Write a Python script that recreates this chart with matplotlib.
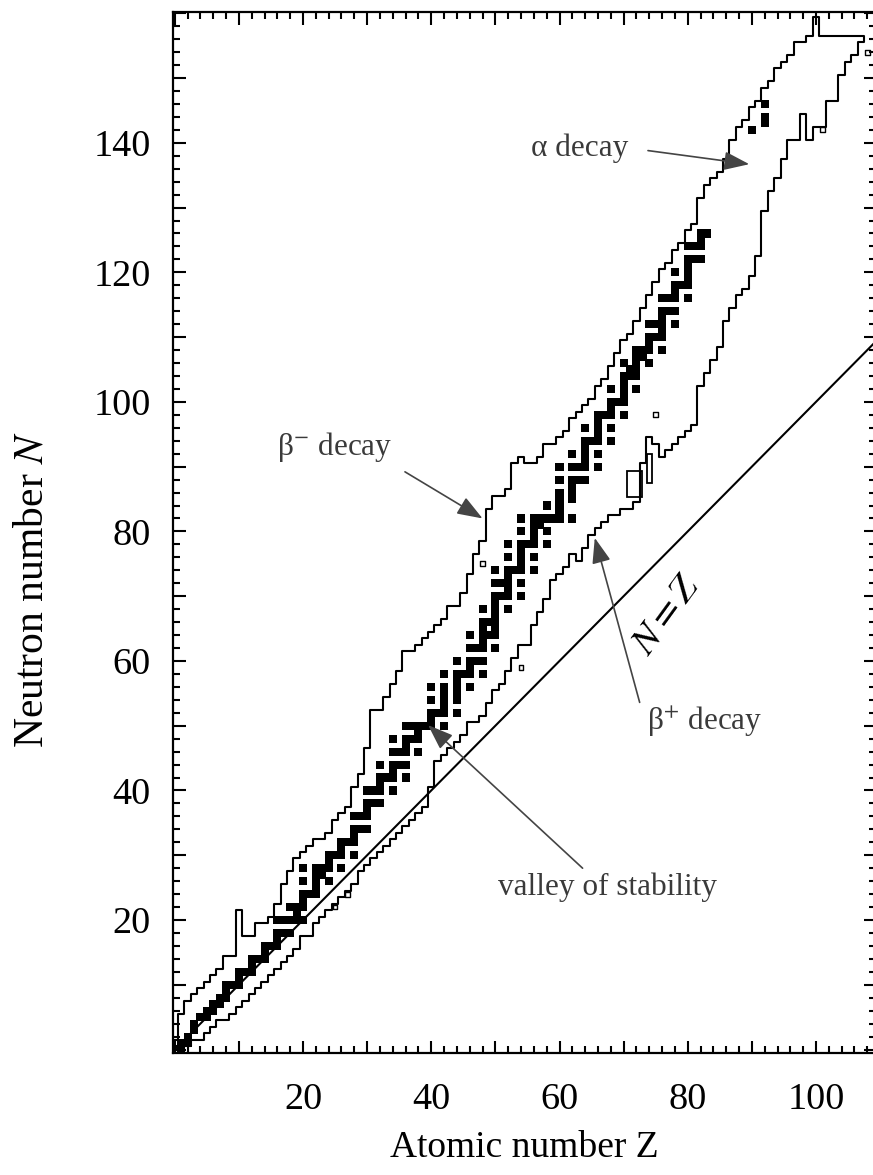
import numpy as np
import matplotlib.pyplot as plt
from matplotlib.ticker import MultipleLocator, FuncFormatter

plt.rcParams['font.family'] = ['Liberation Serif', 'DejaVu Serif']
plt.rcParams['mathtext.fontset'] = 'stix'

# known nuclides: heaviest and lightest neutron number for each Z
z_known = np.arange(0, 108)
n_max = [1,
         5, 7, 8, 9, 10, 11, 12, 14, 14, 21,
         17, 17, 19, 19, 20, 22, 25, 27, 29, 30,
         31, 32, 32, 33, 35, 36, 37, 40, 42, 46,
         52, 52, 54, 56, 58, 61, 61, 62, 63, 64,
         65, 66, 68, 68, 70, 73, 76, 78, 83, 85,
         85, 86, 90, 91, 90, 90, 91, 93, 93, 94,
         95, 97, 98, 99, 100, 102, 103, 105, 107, 109,
         110, 112, 114, 116, 118, 120, 121, 123, 124, 126,
         127, 131, 133, 134, 135, 137, 140, 142, 143, 145,
         146, 148, 149, 151, 152, 153, 155, 155, 156, 159,
         156, 156, 156, 156, 156, 156, 156]
n_min = [1,
         0, 1, 2, 2, 3, 4, 5, 5, 6, 7,
         8, 9, 10, 11, 12, 13, 14, 15, 16, 18,
         18, 20, 21, 22, 23, 24, 25, 26, 28, 29,
         30, 31, 32, 33, 34, 35, 36, 37, 38, 41,
         45, 46, 47, 48, 49, 51, 51, 52, 54, 56,
         57, 59, 61, 63, 63, 66, 68, 70, 73, 74,
         75, 77, 76, 78, 80, 81, 82, 83, 83, 84,
         84, 85, 91, 95, 94, 92, 93, 94, 95, 96,
         97, 103, 105, 107, 109, 113, 115, 117, 118, 120,
         123, 130, 133, 135, 138, 141, 141, 145, 141, 143,
         143, 147, 147, 151, 153, 154, 156]

# stable (and very long lived) nuclides, neutron numbers listed per Z
stable_n = [[], [0, 1], [1, 2], [3, 4], [5], [5, 6], [6, 7], [7, 8], [8, 9, 10], [10],
            [10, 11, 12], [12], [12, 13, 14], [14], [14, 15, 16], [16], [16, 17, 18, 20],
            [18, 20], [18, 20, 22], [20, 21, 22], [20, 22, 23, 24, 26, 28], [24],
            [24, 25, 26, 27, 28], [27, 28], [26, 28, 29, 30], [30], [28, 30, 31, 32],
            [32], [30, 32, 33, 34, 36], [34, 36], [34, 36, 37, 38, 40], [38, 40],
            [38, 40, 41, 42, 44], [42], [40, 42, 43, 44, 46, 48], [44, 46],
            [42, 44, 46, 47, 48, 50], [48, 50], [46, 48, 49, 50], [50],
            [50, 51, 52, 54, 56], [52], [50, 52, 53, 54, 55, 56, 58], [],
            [52, 54, 55, 56, 57, 58, 60], [58], [56, 58, 59, 60, 62, 64], [60, 62],
            [58, 60, 62, 63, 64, 65, 66, 68], [64, 66],
            [62, 64, 65, 66, 67, 68, 69, 70, 72, 74], [70, 72],
            [68, 70, 71, 72, 73, 74, 76, 78], [74], [70, 72, 74, 75, 76, 77, 78, 80, 82],
            [78], [74, 76, 78, 79, 80, 81, 82], [81, 82], [78, 80, 82, 84], [82],
            [82, 83, 84, 85, 86, 88, 90], [], [82, 85, 86, 87, 88, 90, 92], [88, 90],
            [88, 90, 91, 92, 93, 94, 96], [94], [90, 92, 94, 95, 96, 97, 98], [98],
            [94, 96, 98, 99, 100, 102], [100], [98, 100, 101, 102, 103, 104, 106],
            [104, 105], [102, 104, 105, 106, 107, 108], [107, 108],
            [106, 108, 109, 110, 112], [110, 112], [108, 110, 111, 112, 113, 114, 116],
            [114, 116], [112, 114, 116, 117, 118, 120], [118],
            [116, 118, 119, 120, 121, 122, 124], [122, 124], [122, 124, 125, 126], [126],
            [], [], [], [], [], [], [142], [], [143, 144, 146]]

# isolated nuclides outside the main band
single_z = [25, 27, 48, 54, 75, 101, 108]
single_n = [22, 24, 75, 59, 98, 142, 154]

# small enclosed islands (Z range, N range)
island_z0 = [70.6, 73.6]
island_z1 = [72.8, 74.4]
island_n0 = [85.3, 87.5]
island_n1 = [89.3, 92.0]

nz_line = [0, 112]


def staircase(z, n):
    xs = np.column_stack([z - 0.5, z + 0.5]).ravel()
    ys = np.repeat(n, 2)
    return xs, ys


fig = plt.figure(figsize=(8.73, 11.75), dpi=100)
ax = fig.add_axes([0.198, 0.1038, 0.805, 0.886])

xu, yu = staircase(z_known, np.array(n_max) + 0.5)
xl, yl = staircase(z_known, np.array(n_min) - 0.5)
ax.plot(np.r_[xu, xl[::-1], xu[0]], np.r_[yu, yl[::-1], yu[0]], color='black', lw=1.5)

# stable nuclides as filled cells, a bit larger than one cell so neighbours merge
cell = 1.25
sz = np.concatenate([[z] * len(ns) for z, ns in enumerate(stable_n)])
sn = np.concatenate([ns for ns in stable_n if ns])
ax.bar(sz, cell, bottom=sn - cell / 2, width=cell, color='black', linewidth=0)

ax.scatter(single_z, single_n, marker='s', s=12, facecolors='none', edgecolors='black', linewidths=1)
for z0, z1, n0, n1 in zip(island_z0, island_z1, island_n0, island_n1):
    ax.bar((z0 + z1) / 2, n1 - n0, bottom=n0, width=z1 - z0, fill=False, edgecolor='black', linewidth=1.3)

ax.plot(nz_line, nz_line, color='black', lw=1.5)

ax.set_xlim(-0.3, 109.3)
ax.set_ylim(-0.54, 160.2)

for s in ax.spines.values():
    s.set_linewidth(1.6)
for axis in (ax.xaxis, ax.yaxis):
    axis.set_major_locator(MultipleLocator(10))
    axis.set_minor_locator(MultipleLocator(2))
    axis.set_major_formatter(FuncFormatter(lambda v, p: '%d' % v if 0 < v < 150 and v % 20 == 0 else ''))
ax.tick_params(which='both', direction='in', top=True, right=True, width=1.5, colors='black')
ax.tick_params(which='major', length=9)
ax.tick_params(which='minor', length=5)
ax.tick_params(axis='x', labelsize=27.5, pad=21)
ax.tick_params(axis='y', labelsize=27.5, pad=16)

ax.set_xlabel('Atomic number Z', fontsize=27)
ax.xaxis.set_label_coords(0.5, -0.074)
ax.set_ylabel('Neutron number $N$', fontsize=30)
ax.yaxis.set_label_coords(-0.172, 0.445)

gray = '#3a3a3a'
txt = dict(fontsize=22.5, color=gray, ha='center', va='center')
ax.text(63.2, 139.2, 'α decay', **txt)
ax.text(25.0, 93.0, 'β$^{-}$ decay', **txt)
ax.text(82.6, 50.6, 'β$^{+}$ decay', **txt)
ax.text(67.5, 25.0, 'valley of stability', **txt)
ax.text(76.7, 67.1, '$N = Z$', fontsize=28, color='black', rotation=54, ha='center', va='center')

arrow = dict(arrowstyle='-|>,head_width=0.24,head_length=0.65', color='#444444', lw=1.2,
             mutation_scale=24, shrinkA=0, shrinkB=0)
ax.annotate('', xy=(89.6, 136.7), xytext=(73.8, 138.8), arrowprops=arrow)
ax.annotate('', xy=(48.0, 82.0), xytext=(35.9, 89.2), arrowprops=arrow)
ax.annotate('', xy=(65.5, 79.0), xytext=(72.5, 53.6), arrowprops=arrow)
ax.annotate('', xy=(39.5, 50.1), xytext=(63.6, 28.0), arrowprops=arrow)

fig.savefig('out.png', dpi=100)
